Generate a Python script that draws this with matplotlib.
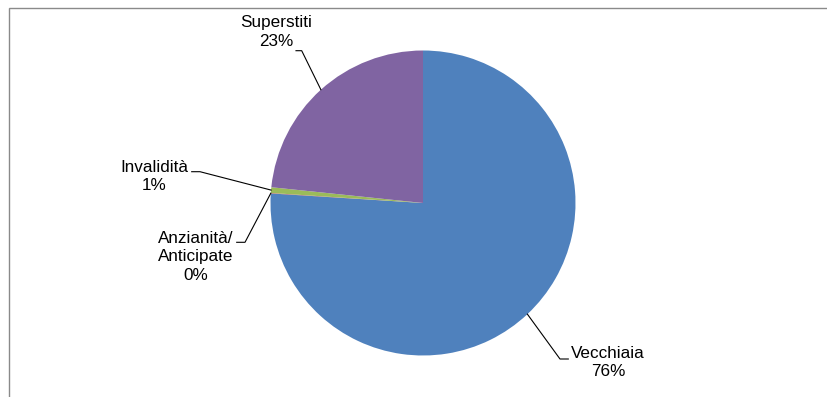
import numpy as np
import matplotlib
matplotlib.use("Agg")
import matplotlib.pyplot as plt
from matplotlib.patches import Rectangle

plt.rcParams['font.family'] = ['Liberation Sans', 'DejaVu Sans']

categories = ['Vecchiaia', 'Anzianità/\nAnticipate', 'Invalidità', 'Superstiti']
values = [76.0, 0.05, 0.6, 23.35]
pct_labels = ['76%', '0%', '1%', '23%']
colors = ['#4F81BD', '#C0504D', '#9BBB59', '#8064A2']

W, H = 828, 397
fig = plt.figure(figsize=(W / 100, H / 100), dpi=100)
ax = fig.add_axes([0, 0, 1, 1])

cx, cy, r = 423, H - 203, 152.5
wedges, _ = ax.pie(values, colors=colors, startangle=90, counterclock=False,
                   center=(cx, cy), radius=r, frame=True,
                   wedgeprops=dict(linewidth=0))
ax.set_xlim(0, W)
ax.set_ylim(0, H)
ax.axis('off')

# label positions (text centre) and leader elbow points
text_pos = [(608, H - 362.7), (195.5, H - 257), (154.5, H - 176.5), (276, H - 32)]
elbows = [((560, H - 359), (568.3, H - 359)),
          ((245, H - 242.3), (236.7, H - 242.3)),
          ((200, H - 171.7), (191.7, H - 171.7)),
          ((301.7, H - 50.7), (296, H - 50.7))]

for w, cat, pct, tp, (e1, e2) in zip(wedges, categories, pct_labels, text_pos, elbows):
    ang = np.deg2rad((w.theta1 + w.theta2) / 2)
    px, py = cx + r * np.cos(ang), cy + r * np.sin(ang)
    ax.plot([px, e1[0], e2[0]], [py, e1[1], e2[1]], color='black', lw=0.8)
    ax.text(tp[0], tp[1], cat + '\n' + pct, ha='center', va='center',
            multialignment='center', fontsize=12.3, color='black', linespacing=1.3)

ax.add_patch(Rectangle((9.5, -20), 900, H - 7.5 + 20, fill=False,
                       edgecolor='#8a8a8a', lw=1, clip_on=False))

fig.savefig('out.png', dpi=100)
